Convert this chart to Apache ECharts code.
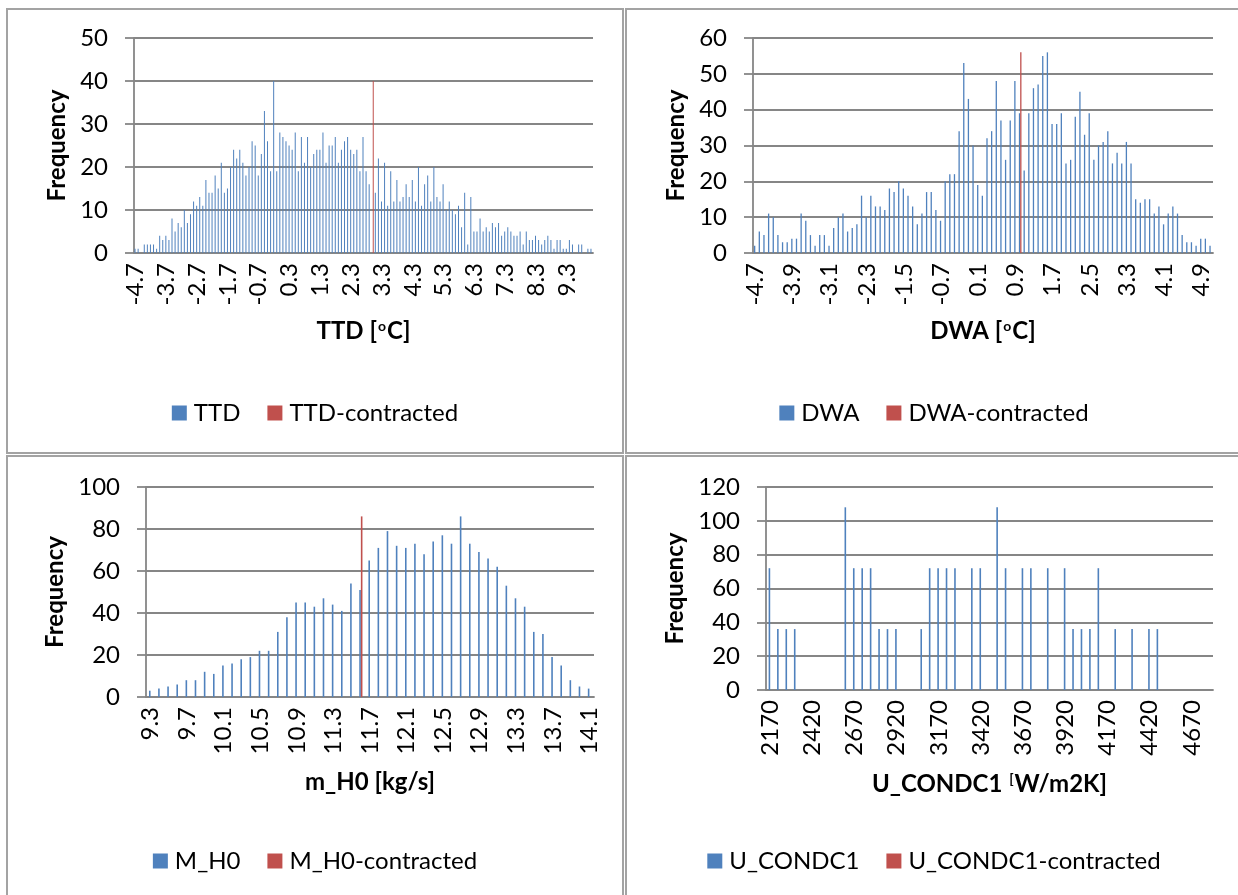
<!DOCTYPE html>
<html>
<head>
<meta charset="utf-8">
<script src="https://cdn.jsdelivr.net/npm/echarts@6/dist/echarts.min.js"></script>
<style>
  body { margin: 0; background: #fff; width: 1238px; height: 895px; overflow: hidden; position: relative; }
  .panel { position: absolute; width: 618px; height: 446px; border: 2px solid #a3a3a3; box-sizing: border-box; background: #fff; }
  .chart { width: 614px; height: 442px; }
</style>
</head>
<body>
<div class="panel" style="left:6px;top:8px"><div id="c-ttd" class="chart"></div></div>
<div class="panel" style="left:625px;top:8px"><div id="c-dwa" class="chart"></div></div>
<div class="panel" style="left:6px;top:455px"><div id="c-mh0" class="chart"></div></div>
<div class="panel" style="left:625px;top:455px"><div id="c-ucond" class="chart"></div></div>
<script>
// histogram bins (category labels)
const ttdCats = ('-4.7 -4.6 -4.5 -4.4 -4.3 -4.2 -4.1 -4.0 -3.9 -3.8 ' +
  '-3.7 -3.6 -3.5 -3.4 -3.3 -3.2 -3.1 -3.0 -2.9 -2.8 ' +
  '-2.7 -2.6 -2.5 -2.4 -2.3 -2.2 -2.1 -2.0 -1.9 -1.8 ' +
  '-1.7 -1.6 -1.5 -1.4 -1.3 -1.2 -1.1 -1.0 -0.9 -0.8 ' +
  '-0.7 -0.6 -0.5 -0.4 -0.3 -0.2 -0.1 0.0 0.1 0.2 ' +
  '0.3 0.4 0.5 0.6 0.7 0.8 0.9 1.0 1.1 1.2 ' +
  '1.3 1.4 1.5 1.6 1.7 1.8 1.9 2.0 2.1 2.2 ' +
  '2.3 2.4 2.5 2.6 2.7 2.8 2.9 3.0 3.1 3.2 ' +
  '3.3 3.4 3.5 3.6 3.7 3.8 3.9 4.0 4.1 4.2 ' +
  '4.3 4.4 4.5 4.6 4.7 4.8 4.9 5.0 5.1 5.2 ' +
  '5.3 5.4 5.5 5.6 5.7 5.8 5.9 6.0 6.1 6.2 ' +
  '6.3 6.4 6.5 6.6 6.7 6.8 6.9 7.0 7.1 7.2 ' +
  '7.3 7.4 7.5 7.6 7.7 7.8 7.9 8.0 8.1 8.2 ' +
  '8.3 8.4 8.5 8.6 8.7 8.8 8.9 9.0 9.1 9.2 ' +
  '9.3 9.4 9.5 9.6 9.7 9.8 9.9 10.0 10.1').split(' ');

const ttdValues = [1, 1, 0, 2, 2, 2, 2, 1, 4, 3,
  4, 3, 8, 5, 7, 6, 10, 7, 9, 12,
  11, 13, 11, 17, 14, 14, 18, 15, 21, 14,
  15, 20, 24, 22, 24, 21, 18, 20, 26, 25,
  18, 23, 33, 26, 19, 40, 19, 28, 27, 26,
  25, 24, 28, 19, 27, 21, 27, 20, 23, 24,
  24, 28, 21, 25, 25, 27, 21, 24, 26, 27,
  24, 23, 24, 19, 27, 19, 16, 0, 14, 22,
  12, 21, 11, 19, 12, 17, 12, 13, 16, 13,
  17, 12, 20, 11, 16, 18, 12, 20, 13, 12,
  16, 10, 12, 10, 9, 11, 6, 14, 2, 13,
  5, 5, 8, 5, 6, 5, 7, 6, 7, 4,
  5, 6, 5, 4, 4, 5, 2, 5, 3, 3,
  4, 3, 2, 3, 4, 3, 1, 3, 3, 1,
  1, 3, 2, 0, 2, 2, 0, 1, 1];
const ttdContracted = [['3.0', 40]];

const dwaCats = ('-4.7 -4.6 -4.5 -4.4 -4.3 -4.2 -4.1 -4.0 -3.9 -3.8 ' +
  '-3.7 -3.6 -3.5 -3.4 -3.3 -3.2 -3.1 -3.0 -2.9 -2.8 ' +
  '-2.7 -2.6 -2.5 -2.4 -2.3 -2.2 -2.1 -2.0 -1.9 -1.8 ' +
  '-1.7 -1.6 -1.5 -1.4 -1.3 -1.2 -1.1 -1.0 -0.9 -0.8 ' +
  '-0.7 -0.6 -0.5 -0.4 -0.3 -0.2 -0.1 0.0 0.1 0.2 ' +
  '0.3 0.4 0.5 0.6 0.7 0.8 0.9 1.0 1.1 1.2 ' +
  '1.3 1.4 1.5 1.6 1.7 1.8 1.9 2.0 2.1 2.2 ' +
  '2.3 2.4 2.5 2.6 2.7 2.8 2.9 3.0 3.1 3.2 ' +
  '3.3 3.4 3.5 3.6 3.7 3.8 3.9 4.0 4.1 4.2 ' +
  '4.3 4.4 4.5 4.6 4.7 4.8 4.9 5.0 5.1').split(' ');

const dwaValues = [2, 6, 5, 11, 10, 5, 3, 3, 4, 4,
  11, 9, 5, 2, 5, 5, 2, 7, 10, 11,
  6, 7, 8, 16, 10, 16, 13, 13, 12, 18,
  17, 20, 18, 16, 13, 8, 11, 17, 17, 12,
  9, 20, 22, 22, 34, 53, 43, 30, 19, 16,
  32, 34, 48, 37, 26, 37, 48, 39, 23, 39,
  46, 47, 55, 56, 36, 36, 39, 25, 26, 38,
  45, 33, 39, 26, 30, 31, 34, 25, 28, 25,
  31, 25, 15, 14, 15, 15, 11, 13, 8, 11,
  13, 11, 5, 3, 3, 2, 4, 4, 2];
const dwaContracted = [['1.0', 56]];

const mh0Cats = ('9.3 9.4 9.5 9.6 9.7 9.8 9.9 10.0 10.1 10.2 10.3 10.4 10.5 10.6 10.7 10.8 ' +
  '10.9 11.0 11.1 11.2 11.3 11.4 11.5 11.6 11.7 11.8 11.9 12.0 12.1 12.2 12.3 12.4 ' +
  '12.5 12.6 12.7 12.8 12.9 13.0 13.1 13.2 13.3 13.4 13.5 13.6 13.7 13.8 13.9 14.0 14.1').split(' ');

const mh0Values = [3, 4, 5, 6, 8, 8, 12, 11, 15, 16,
  18, 19, 22, 22, 31, 38, 45, 45, 43, 47,
  44, 41, 54, 51, 65, 71, 79, 72, 71, 73,
  68, 74, 77, 73, 86, 73, 69, 66, 62, 53,
  47, 43, 31, 30, 19, 15, 8, 5, 4];
const mh0Contracted = [['11.6', 86]];

const ucondCats = ['2170', '2220', '2270', '2320', '2370', '2420', '2470', '2520', '2570', '2620',
  '2670', '2720', '2770', '2820', '2870', '2920', '2970', '3020', '3070', '3120',
  '3170', '3220', '3270', '3320', '3370', '3420', '3470', '3520', '3570', '3620',
  '3670', '3720', '3770', '3820', '3870', '3920', '3970', '4020', '4070', '4120',
  '4170', '4220', '4270', '4320', '4370', '4420', '4470', '4520', '4570', '4620',
  '4670', '4720', '4770'];

const ucondValues = [72, 36, 36, 36, 0, 0, 0, 0, 0, 108,
  72, 72, 72, 36, 36, 36, 0, 0, 36, 72,
  72, 72, 72, 0, 72, 72, 0, 108, 72, 0,
  72, 72, 0, 72, 0, 72, 36, 36, 36, 72,
  0, 36, 0, 36, 0, 36, 36, 0, 0, 0,
  0, 0, 0];
const ucondContracted = [];

const BLUE = '#4F81BD';
const RED = '#C0504D';
const LINE_GRAY = '#868686';
const FONT = 'Lato, "Open Sans", sans-serif';

const supStyle = { fontSize: 14, fontWeight: 'bold', fontFamily: FONT, color: '#000', verticalAlign: 'top', padding: [0, 1, 0, 1] };

function makeOption(p) {
  const line = { color: LINE_GRAY, width: 1.8 };
  return {
    animation: false,
    textStyle: { fontFamily: FONT },
    grid: p.grid,
    legend: {
      top: p.legendTop,
      left: 'center',
      icon: 'rect',
      itemWidth: 15,
      itemHeight: 15,
      itemGap: 27,
      textStyle: { fontSize: 24, color: '#000', fontFamily: FONT, padding: [0, 0, 0, 2] },
      data: p.names
    },
    xAxis: {
      type: 'category',
      data: p.cats,
      name: p.xName,
      nameLocation: 'middle',
      nameGap: p.xNameGap,
      nameTextStyle: { fontSize: 24, fontWeight: 'bold', color: '#000', fontFamily: FONT, rich: { sup: supStyle } },
      axisLine: { lineStyle: line },
      axisTick: { interval: p.labelEvery - 1, length: 8, lineStyle: line },
      axisLabel: { interval: p.labelEvery - 1, rotate: 90, fontSize: 24, color: '#000', margin: 10 }
    },
    yAxis: {
      type: 'value',
      min: 0,
      max: p.yMax,
      interval: p.yStep,
      name: 'Frequency',
      nameLocation: 'middle',
      nameGap: p.yNameGap,
      nameTextStyle: { fontSize: 24, fontWeight: 'bold', color: '#000', fontFamily: FONT },
      axisLine: { show: true, lineStyle: line },
      axisTick: { show: true, length: 9, lineStyle: line },
      axisLabel: { fontSize: 24, color: '#000', margin: 26 },
      splitLine: { lineStyle: line }
    },
    series: [
      { name: p.names[0], type: 'bar', data: p.values, barWidth: p.barWidth, barGap: '0%', itemStyle: { color: BLUE } },
      { name: p.names[1], type: 'bar', data: p.contracted, barWidth: p.barWidth, barGap: '0%', itemStyle: { color: RED } }
    ]
  };
}

const panels = [
  { id: 'c-ttd', cats: ttdCats, values: ttdValues, contracted: ttdContracted, names: ['TTD', 'TTD-contracted'],
    xName: 'TTD [{sup|o}C]', labelEvery: 10, yMax: 50, yStep: 10, barWidth: 1,
    grid: { left: 126, top: 28, right: 29, bottom: 199 }, xNameGap: 66, yNameGap: 57, legendTop: 386 },
  { id: 'c-dwa', cats: dwaCats, values: dwaValues, contracted: dwaContracted, names: ['DWA', 'DWA-contracted'],
    xName: 'DWA [{sup|o}C]', labelEvery: 8, yMax: 60, yStep: 10, barWidth: 1.3,
    grid: { left: 126, top: 28, right: 28, bottom: 199 }, xNameGap: 66, yNameGap: 59, legendTop: 386 },
  { id: 'c-mh0', cats: mh0Cats, values: mh0Values, contracted: mh0Contracted, names: ['M_H0', 'M_H0-contracted'],
    xName: 'm_H0 [kg/s]', labelEvery: 4, yMax: 100, yStep: 20, barWidth: 1.6,
    grid: { left: 138, top: 30, right: 28, bottom: 202 }, xNameGap: 73, yNameGap: 70, legendTop: 387 },
  { id: 'c-ucond', cats: ucondCats, values: ucondValues, contracted: ucondContracted, names: ['U_CONDC1', 'U_CONDC1-contracted'],
    xName: 'U_CONDC1 {sup|[}W/m2K]', labelEvery: 5, yMax: 120, yStep: 20, barWidth: 1.6,
    grid: { left: 139, top: 30, right: 28, bottom: 209 }, xNameGap: 82, yNameGap: 72, legendTop: 387 }
];

for (const p of panels) {
  const chart = echarts.init(document.getElementById(p.id), null, { renderer: 'canvas' });
  chart.setOption(makeOption(p));
}
</script>
</body>
</html>
